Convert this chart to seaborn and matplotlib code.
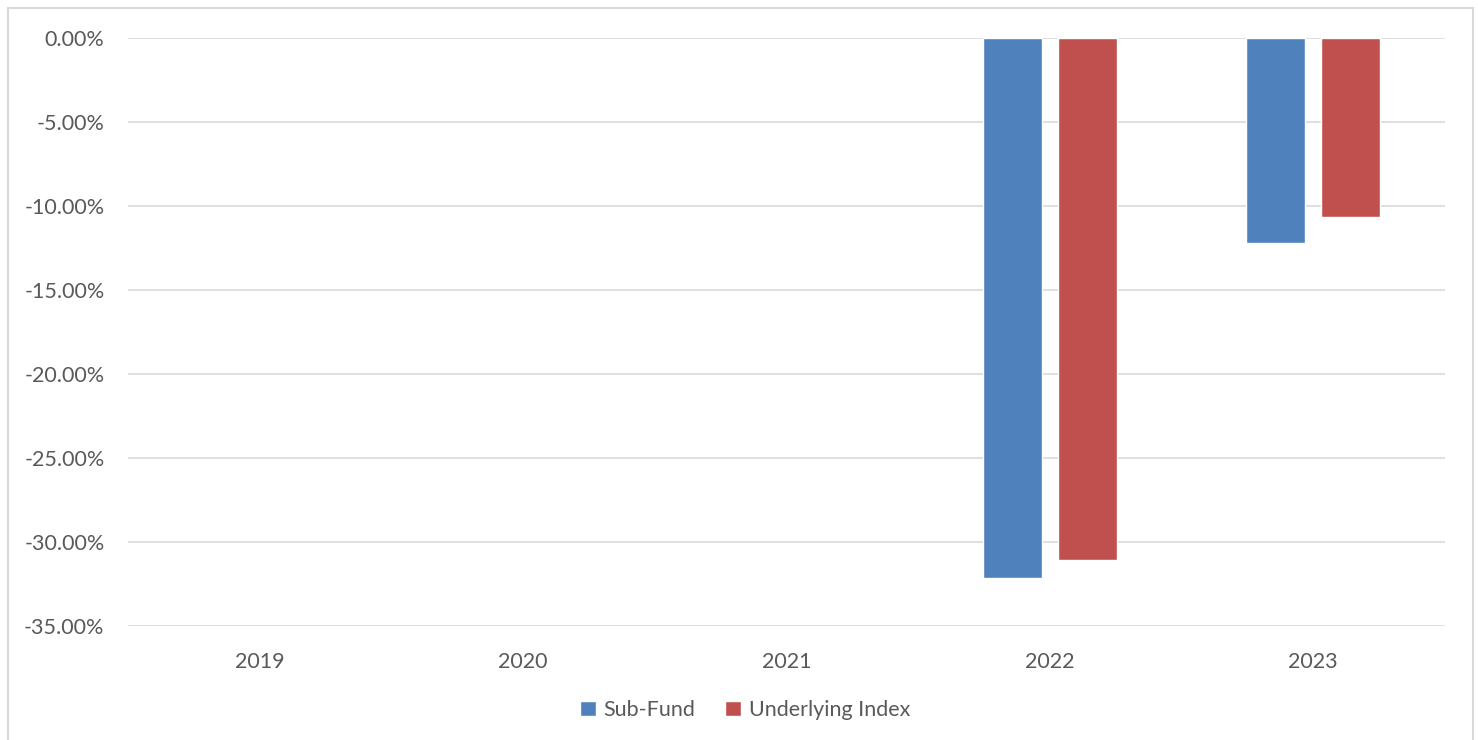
import pandas as pd
import matplotlib.pyplot as plt
import matplotlib.ticker as ticker
import seaborn as sns
from matplotlib.patches import Rectangle

# Annual returns (%)
years = ['2019', '2020', '2021', '2022', '2023']
sub_fund = [None, None, None, -32.15, -12.2]
underlying_index = [None, None, None, -31.07, -10.65]
series_names = ['Sub-Fund', 'Underlying Index']
colors = ['#4F81BD', '#C0504D']
y_ticks = [0, -5, -10, -15, -20, -25, -30, -35]

df = pd.DataFrame({
    'year': years * 2,
    'value': sub_fund + underlying_index,
    'series': [series_names[0]] * len(years) + [series_names[1]] * len(years),
})

sns.set_style('white')
plt.rcParams['font.family'] = ['Lato', 'DejaVu Sans']
text_color = '#595959'

fig = plt.figure(figsize=(14.78, 7.4), dpi=100)
ax = fig.add_axes([128 / 1478, 1 - 626 / 740, (1445 - 128) / 1478, (626 - 38) / 740])

sns.barplot(data=df, x='year', y='value', hue='series', order=years,
            hue_order=series_names, palette=colors, width=0.57, gap=0.21,
            saturation=1, ax=ax, legend=True)

ax.set_ylim(-35, 0)
ax.yaxis.set_major_locator(ticker.FixedLocator(y_ticks))
ax.yaxis.set_major_formatter(ticker.FuncFormatter(lambda v, p: f'{v:.2f}%'))
ax.grid(axis='y', color='#D9D9D9', linewidth=1.2)
ax.set_axisbelow(True)
for s in ax.spines.values():
    s.set_visible(False)
ax.tick_params(axis='both', length=0, labelsize=15.5, labelcolor=text_color)
ax.tick_params(axis='y', pad=17)
ax.tick_params(axis='x', pad=19)
ax.set_xlabel('')
ax.set_ylabel('')

handles, labels = ax.get_legend_handles_labels()
ax.get_legend().remove()
fig.legend(handles, labels, loc='center', bbox_to_anchor=(745 / 1478, 1 - 710 / 740),
           ncol=2, frameon=False, fontsize=15.5, labelcolor=text_color,
           handlelength=0.75, handleheight=0.75, handletextpad=0.35, columnspacing=1.4)

# outer chart border
fig.patches.append(Rectangle((8 / 1478, -0.05), (1473 - 8) / 1478, 1.05 - 8 / 740,
                             transform=fig.transFigure, fill=False,
                             edgecolor='#D9D9D9', linewidth=1.5))

fig.savefig('out.png', dpi=100)
